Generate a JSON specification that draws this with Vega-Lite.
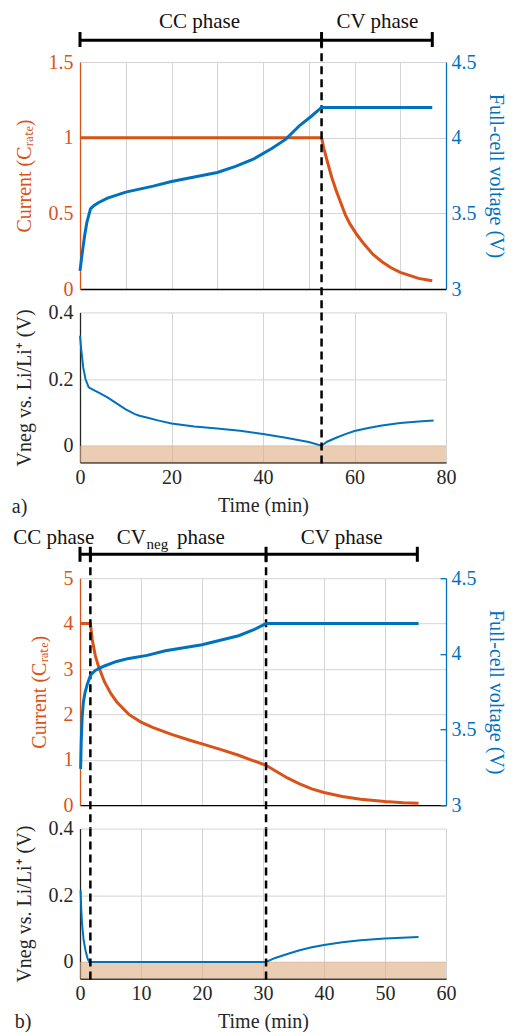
{
"$schema": "https://vega.github.io/schema/vega-lite/v6.json",
"padding": {"left": 11, "top": 11, "right": 5, "bottom": 0},
"config": {
  "font": "Liberation Serif",
  "view": {"stroke": null},
  "style": {"guide-label": {"font": "Liberation Serif", "fontSize": 20}, "guide-title": {"font": "Liberation Serif", "fontSize": 20}},
  "axis": {"labelFont": "Liberation Serif", "titleFont": "Liberation Serif", "labelFontSize": 20, "titleFontSize": 20, "titleFontWeight": "normal", "labelColor": "#262626", "titleColor": "#262626", "domainColor": "#262626", "domainWidth": 1.3, "gridColor": "#d4d4d4", "gridWidth": 1, "ticks": false, "labelPadding": 6, "labelFlush": false, "format": ".3~r"},
  "text": {"font": "Liberation Serif"}
},
"datasets": {
  "ia": [{"t":0,"c":1},{"t":52.8,"c":1},{"t":53.3,"c":0.93},{"t":54,"c":0.85},{"t":55,"c":0.74},{"t":56,"c":0.65},{"t":57,"c":0.57},{"t":58,"c":0.49},{"t":59,"c":0.43},{"t":60.5,"c":0.36},{"t":62,"c":0.3},{"t":64,"c":0.23},{"t":66,"c":0.18},{"t":68,"c":0.14},{"t":70,"c":0.11},{"t":72,"c":0.09},{"t":74,"c":0.07},{"t":76,"c":0.06},{"t":77,"c":0.055}],
  "va": [{"t":0,"v":3.12},{"t":0.5,"v":3.24},{"t":1,"v":3.35},{"t":1.5,"v":3.44},{"t":2.3,"v":3.53},{"t":3,"v":3.55},{"t":4,"v":3.57},{"t":6,"v":3.6},{"t":8,"v":3.62},{"t":10,"v":3.64},{"t":13,"v":3.66},{"t":16,"v":3.68},{"t":20,"v":3.71},{"t":25,"v":3.74},{"t":30,"v":3.77},{"t":34,"v":3.81},{"t":38,"v":3.86},{"t":42,"v":3.93},{"t":45,"v":3.99},{"t":48,"v":4.08},{"t":50.5,"v":4.14},{"t":52.8,"v":4.2},{"t":77,"v":4.2}],
  "na": [{"t":0,"v":0.33},{"t":0.3,"v":0.285},{"t":0.7,"v":0.235},{"t":1.2,"v":0.2},{"t":1.9,"v":0.175},{"t":3,"v":0.167},{"t":4,"v":0.16},{"t":6,"v":0.145},{"t":8,"v":0.127},{"t":10,"v":0.109},{"t":12,"v":0.095},{"t":13,"v":0.09},{"t":15,"v":0.083},{"t":17,"v":0.076},{"t":20,"v":0.067},{"t":25,"v":0.058},{"t":30,"v":0.052},{"t":35,"v":0.045},{"t":40,"v":0.035},{"t":45,"v":0.024},{"t":50,"v":0.011},{"t":52.8,"v":0.0},{"t":54,"v":0.012},{"t":56,"v":0.024},{"t":58,"v":0.035},{"t":60,"v":0.044},{"t":63,"v":0.053},{"t":66,"v":0.061},{"t":70,"v":0.068},{"t":74,"v":0.073},{"t":77.3,"v":0.076}],
  "ib": [{"t":0,"c":4},{"t":1.7,"c":4},{"t":2,"c":3.65},{"t":2.5,"c":3.3},{"t":3,"c":3.07},{"t":4,"c":2.72},{"t":5,"c":2.47},{"t":6,"c":2.28},{"t":8,"c":2.0},{"t":10,"c":1.83},{"t":12,"c":1.71},{"t":15,"c":1.56},{"t":18,"c":1.43},{"t":20,"c":1.35},{"t":23,"c":1.23},{"t":26,"c":1.1},{"t":28,"c":1.0},{"t":30.5,"c":0.88},{"t":32,"c":0.76},{"t":34,"c":0.6},{"t":36,"c":0.47},{"t":38,"c":0.36},{"t":40,"c":0.28},{"t":43,"c":0.19},{"t":46,"c":0.13},{"t":50,"c":0.08},{"t":53,"c":0.055},{"t":55.5,"c":0.045}],
  "vb": [{"t":0.1,"v":3.24},{"t":0.2,"v":3.42},{"t":0.35,"v":3.58},{"t":0.55,"v":3.68},{"t":0.8,"v":3.74},{"t":1.2,"v":3.8},{"t":1.74,"v":3.86},{"t":2.5,"v":3.89},{"t":4,"v":3.92},{"t":6,"v":3.95},{"t":8,"v":3.97},{"t":11,"v":3.99},{"t":14,"v":4.02},{"t":17,"v":4.04},{"t":20,"v":4.06},{"t":23,"v":4.09},{"t":26,"v":4.12},{"t":28.5,"v":4.16},{"t":30.5,"v":4.2},{"t":55.5,"v":4.2}],
  "nb": [{"t":0.1,"v":0.215},{"t":0.2,"v":0.16},{"t":0.35,"v":0.11},{"t":0.6,"v":0.065},{"t":0.9,"v":0.035},{"t":1.2,"v":0.013},{"t":1.5,"v":0},{"t":30.5,"v":0},{"t":32,"v":0.012},{"t":34,"v":0.024},{"t":36,"v":0.035},{"t":38,"v":0.044},{"t":40,"v":0.051},{"t":43,"v":0.059},{"t":46,"v":0.065},{"t":50,"v":0.07},{"t":55.5,"v":0.075}],
  "barA": [{"s":0,"e":77}],
  "phA": [{"t":0},{"t":52.8},{"t":77}],
  "dashA": [{"t":52.8}],
  "labA": [{"t":26.1,"label":"CC phase"},{"t":65,"label":"CV phase"}],
  "bgA": [{"s":0,"e":80}],
  "tagA": [{"t":-14.9,"label":"a)"}],
  "barB": [{"s":0,"e":55.3}],
  "phB": [{"t":0},{"t":1.7},{"t":30.5},{"t":55.3}],
  "dashB": [{"t":1.7},{"t":30.5}],
  "labB": [{"t":-4.3,"label":"CC phase"},{"t":42.9,"label":"CV phase"}],
  "labB1": [{"t":10.8,"label":"CV"}],
  "labB2": [{"t":10.9,"label":"neg"}],
  "labB3": [{"t":15.9,"label":"phase"}],
  "bgB": [{"s":0,"e":60}],
  "tagB": [{"t":-10.7,"label":"b)"}]
},
"spacing": 23.4,
"bounds": "flush",
"vconcat": [
  {
    "width": 366, "height": 227,
    "resolve": {"scale": {"y": "independent"}, "axis": {"x": "independent", "y": "independent"}},
    "layer": [
      {"resolve": {"axis": {"x": "independent", "y": "independent"}},
       "layer": [
        {"data": {"name": "ia"}, "mark": {"type": "line", "color": "#D95319", "strokeWidth": 3},
         "encoding": {
           "x": {"field": "t", "type": "quantitative", "scale": {"domain": [0, 80]}, "axis": {"values": [0,10,20,30,40,50,60,70,80], "labels": false, "title": null, "grid": true, "domainColor": "#000000"}},
           "y": {"field": "c", "type": "quantitative", "scale": {"domain": [0, 1.5]}, "axis": {"values": [0,0.5,1,1.5], "title": "Current (Cᵣₐₜₑ)", "grid": true, "domainColor": "#D95319", "labelColor": "#D95319", "titleColor": "#D95319", "labelFont": "Liberation Serif", "labelPadding": 7, "titlePadding": 14}}}},
        {"data": {"name": "barA"}, "mark": {"type": "rule", "color": "#000000", "strokeWidth": 3},
         "encoding": {"x": {"field": "s", "type": "quantitative", "scale": {"domain": [0, 80]}, "axis": null}, "x2": {"field": "e"}, "y": {"datum": 1.643, "scale": {"domain": [0, 1.5]}, "axis": null}}},
        {"data": {"name": "phA"}, "mark": {"type": "rule", "color": "#000000", "strokeWidth": 3},
         "encoding": {"x": {"field": "t", "type": "quantitative", "scale": {"domain": [0, 80]}, "axis": null}, "y": {"datum": 1.599, "scale": {"domain": [0, 1.5]}, "axis": null}, "y2": {"datum": 1.698}}},
        {"data": {"name": "dashA"}, "mark": {"type": "rule", "color": "#000000", "strokeWidth": 2.5, "strokeDash": [8, 5]},
         "encoding": {"x": {"field": "t", "type": "quantitative", "scale": {"domain": [0, 80]}, "axis": null}, "y": {"datum": 1.643, "scale": {"domain": [0, 1.5]}, "axis": null}, "y2": {"datum": -0.155}}},
        {"data": {"name": "labA"}, "mark": {"type": "text", "fontSize": 21, "align": "center", "baseline": "middle", "color": "#111111"},
         "encoding": {"x": {"field": "t", "type": "quantitative", "scale": {"domain": [0, 80]}, "axis": null}, "y": {"datum": 1.764, "scale": {"domain": [0, 1.5]}, "axis": null}, "text": {"field": "label"}}}
      ]},
      {"data": {"name": "va"}, "mark": {"type": "line", "color": "#0072BD", "strokeWidth": 3},
       "encoding": {
         "x": {"field": "t", "type": "quantitative", "scale": {"domain": [0, 80]}, "axis": null},
         "y": {"field": "v", "type": "quantitative", "scale": {"domain": [3, 4.5]}, "axis": {"orient": "right", "values": [3,3.5,4,4.5], "title": "Full-cell voltage (V)", "grid": false, "domainColor": "#0072BD", "labelColor": "#0072BD", "titleColor": "#0072BD", "labelFont": "Liberation Serif", "labelPadding": 5, "titlePadding": 9}}}}
    ]
  },
  {
    "width": 366, "height": 150,
    "resolve": {"axis": {"x": "independent", "y": "independent"}},
    "layer": [
      {"data": {"name": "bgA"}, "mark": {"type": "rect", "color": "#DEAC80", "opacity": 0.6},
       "encoding": {"x": {"field": "s", "type": "quantitative", "scale": {"domain": [0, 80]}, "axis": null}, "x2": {"field": "e"}, "y": {"datum": 0, "scale": {"domain": [-0.05, 0.4]}, "axis": null}, "y2": {"datum": -0.05}}},
      {"data": {"name": "na"}, "mark": {"type": "line", "color": "#0072BD", "strokeWidth": 2},
       "encoding": {
         "x": {"field": "t", "type": "quantitative", "scale": {"domain": [0, 80]}, "axis": {"values": [0,20,40,60,80], "title": "Time (min)", "grid": true, "domainColor": "#000000", "labelFont": "Liberation Serif", "labelPadding": 5, "titlePadding": 8}},
         "y": {"field": "v", "type": "quantitative", "scale": {"domain": [-0.05, 0.4]}, "axis": {"values": [0,0.2,0.4], "title": "Vneg vs. Li/Li⁺ (V)", "grid": true, "labelFont": "Liberation Serif", "labelPadding": 7, "titlePadding": 14}}}},
      {"data": {"name": "dashA"}, "mark": {"type": "rule", "color": "#000000", "strokeWidth": 2.5, "strokeDash": [8, 5]},
       "encoding": {"x": {"field": "t", "type": "quantitative", "scale": {"domain": [0, 80]}, "axis": null}, "y": {"datum": 0.4, "scale": {"domain": [-0.05, 0.4]}, "axis": null}, "y2": {"datum": -0.065}}},
      {"data": {"name": "tagA"}, "mark": {"type": "text", "fontSize": 20, "align": "left", "baseline": "middle", "color": "#262626"},
       "encoding": {"x": {"field": "t", "type": "quantitative", "scale": {"domain": [0, 80]}, "axis": null}, "y": {"datum": -0.185, "scale": {"domain": [-0.05, 0.4]}, "axis": null}, "text": {"field": "label"}}}
    ]
  },
  {
    "width": 366, "height": 68.8,
    "data": {"values": []},
    "mark": "point"
  },
  {
    "width": 366, "height": 227,
    "resolve": {"scale": {"y": "independent"}, "axis": {"x": "independent", "y": "independent"}},
    "layer": [
      {"resolve": {"axis": {"x": "independent", "y": "independent"}},
       "layer": [
        {"data": {"name": "ib"}, "mark": {"type": "line", "color": "#D95319", "strokeWidth": 3},
         "encoding": {
           "x": {"field": "t", "type": "quantitative", "scale": {"domain": [0, 60]}, "axis": {"values": [0,10,20,30,40,50,60], "labels": false, "title": null, "grid": true, "domainColor": "#000000"}},
           "y": {"field": "c", "type": "quantitative", "scale": {"domain": [0, 5]}, "axis": {"values": [0,1,2,3,4,5], "title": "Current (Cᵣₐₜₑ)", "grid": true, "domainColor": "#D95319", "labelColor": "#D95319", "titleColor": "#D95319", "labelFont": "Liberation Serif", "labelPadding": 7, "titlePadding": 14}}}},
        {"data": {"name": "barB"}, "mark": {"type": "rule", "color": "#000000", "strokeWidth": 3},
         "encoding": {"x": {"field": "s", "type": "quantitative", "scale": {"domain": [0, 60]}, "axis": null}, "x2": {"field": "e"}, "y": {"datum": 5.527, "scale": {"domain": [0, 5]}, "axis": null}}},
        {"data": {"name": "phB"}, "mark": {"type": "rule", "color": "#000000", "strokeWidth": 3},
         "encoding": {"x": {"field": "t", "type": "quantitative", "scale": {"domain": [0, 60]}, "axis": null}, "y": {"datum": 5.362, "scale": {"domain": [0, 5]}, "axis": null}, "y2": {"datum": 5.692}}},
        {"data": {"name": "dashB"}, "mark": {"type": "rule", "color": "#000000", "strokeWidth": 2.5, "strokeDash": [8, 5]},
         "encoding": {"x": {"field": "t", "type": "quantitative", "scale": {"domain": [0, 60]}, "axis": null}, "y": {"datum": 5.527, "scale": {"domain": [0, 5]}, "axis": null}, "y2": {"datum": -0.512}}},
        {"data": {"name": "labB"}, "mark": {"type": "text", "fontSize": 21, "align": "center", "baseline": "middle", "color": "#111111"},
         "encoding": {"x": {"field": "t", "type": "quantitative", "scale": {"domain": [0, 60]}, "axis": null}, "y": {"datum": 5.886, "scale": {"domain": [0, 5]}, "axis": null}, "text": {"field": "label"}}},
        {"data": {"name": "labB1"}, "mark": {"type": "text", "fontSize": 21, "align": "right", "baseline": "middle", "color": "#111111"},
         "encoding": {"x": {"field": "t", "type": "quantitative", "scale": {"domain": [0, 60]}, "axis": null}, "y": {"datum": 5.886, "scale": {"domain": [0, 5]}, "axis": null}, "text": {"field": "label"}}},
        {"data": {"name": "labB2"}, "mark": {"type": "text", "fontSize": 15, "align": "left", "baseline": "middle", "dy": 6, "color": "#111111"},
         "encoding": {"x": {"field": "t", "type": "quantitative", "scale": {"domain": [0, 60]}, "axis": null}, "y": {"datum": 5.886, "scale": {"domain": [0, 5]}, "axis": null}, "text": {"field": "label"}}},
        {"data": {"name": "labB3"}, "mark": {"type": "text", "fontSize": 21, "align": "left", "baseline": "middle", "color": "#111111"},
         "encoding": {"x": {"field": "t", "type": "quantitative", "scale": {"domain": [0, 60]}, "axis": null}, "y": {"datum": 5.886, "scale": {"domain": [0, 5]}, "axis": null}, "text": {"field": "label"}}}
      ]},
      {"data": {"name": "vb"}, "mark": {"type": "line", "color": "#0072BD", "strokeWidth": 3},
       "encoding": {
         "x": {"field": "t", "type": "quantitative", "scale": {"domain": [0, 60]}, "axis": null},
         "y": {"field": "v", "type": "quantitative", "scale": {"domain": [3, 4.5]}, "axis": {"orient": "right", "values": [3,3.5,4,4.5], "title": "Full-cell voltage (V)", "grid": false, "domainColor": "#0072BD", "labelColor": "#0072BD", "titleColor": "#0072BD", "labelFont": "Liberation Serif", "ticks": true, "tickSize": -6, "tickColor": "#0072BD", "tickWidth": 1.3, "labelPadding": 11, "titlePadding": 9}}}}
    ]
  },
  {
    "width": 366, "height": 150,
    "resolve": {"axis": {"x": "independent", "y": "independent"}},
    "layer": [
      {"data": {"name": "bgB"}, "mark": {"type": "rect", "color": "#DEAC80", "opacity": 0.6},
       "encoding": {"x": {"field": "s", "type": "quantitative", "scale": {"domain": [0, 60]}, "axis": null}, "x2": {"field": "e"}, "y": {"datum": 0, "scale": {"domain": [-0.05, 0.4]}, "axis": null}, "y2": {"datum": -0.05}}},
      {"data": {"name": "nb"}, "mark": {"type": "line", "color": "#0072BD", "strokeWidth": 2},
       "encoding": {
         "x": {"field": "t", "type": "quantitative", "scale": {"domain": [0, 60]}, "axis": {"values": [0,10,20,30,40,50,60], "title": "Time (min)", "grid": true, "domainColor": "#000000", "labelFont": "Liberation Serif", "labelPadding": 5, "titlePadding": 8}},
         "y": {"field": "v", "type": "quantitative", "scale": {"domain": [-0.05, 0.4]}, "axis": {"values": [0,0.2,0.4], "title": "Vneg vs. Li/Li⁺ (V)", "grid": true, "labelFont": "Liberation Serif", "labelPadding": 7, "titlePadding": 14}}}},
      {"data": {"name": "dashB"}, "mark": {"type": "rule", "color": "#000000", "strokeWidth": 2.5, "strokeDash": [8, 5]},
       "encoding": {"x": {"field": "t", "type": "quantitative", "scale": {"domain": [0, 60]}, "axis": null}, "y": {"datum": 0.4, "scale": {"domain": [-0.05, 0.4]}, "axis": null}, "y2": {"datum": -0.065}}},
      {"data": {"name": "tagB"}, "mark": {"type": "text", "fontSize": 20, "align": "left", "baseline": "middle", "color": "#262626"},
       "encoding": {"x": {"field": "t", "type": "quantitative", "scale": {"domain": [0, 60]}, "axis": null}, "y": {"datum": -0.18, "scale": {"domain": [-0.05, 0.4]}, "axis": null}, "text": {"field": "label"}}}
    ]
  }
]
}
